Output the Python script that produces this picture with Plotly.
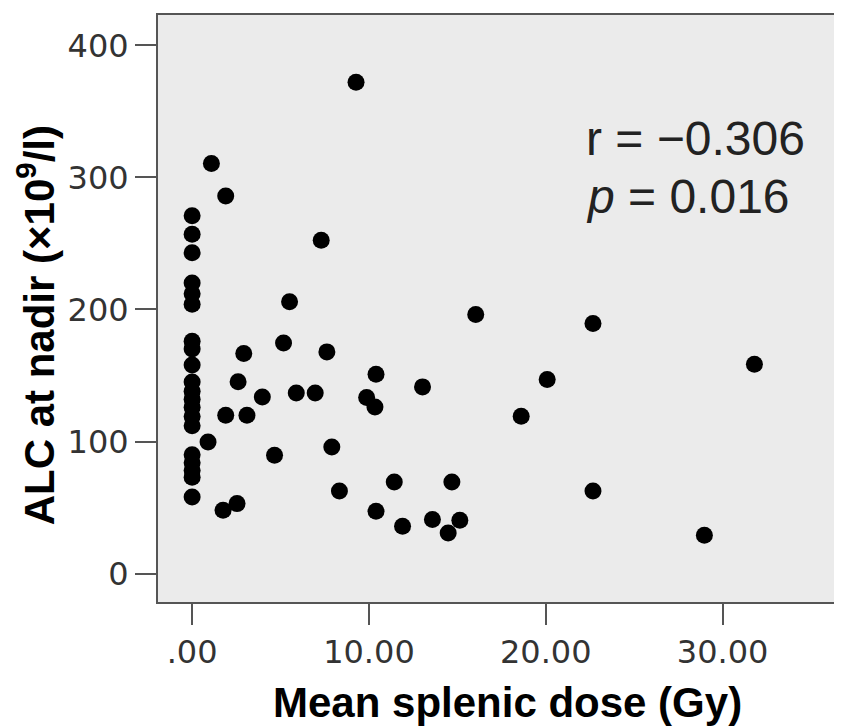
import plotly.graph_objects as go

# Mean splenic dose (Gy) and ALC at nadir (x10^9/l)
dose_zero = [0.0] * 20
alc_zero = [271, 257, 243, 220, 212, 204, 176, 170, 158, 145,
            138, 132, 126, 119, 112, 90, 84, 78, 73, 58]

dose = [1.09, 1.90, 2.92, 2.60, 3.97, 1.90, 3.10, 0.90, 1.75, 2.54,
        4.66, 5.51, 5.17, 7.62, 10.40, 5.89, 6.96, 9.87, 10.34, 13.03,
        16.04, 20.08, 18.61, 7.90, 8.33, 11.43, 14.69, 10.40, 11.90, 13.59,
        14.48, 15.14, 9.27, 7.30, 22.67, 31.80, 22.67, 28.97]
alc = [310.6, 286.0, 166.7, 145.2, 133.8, 120.0, 120.0, 99.7, 48.0, 53.0,
       89.6, 205.8, 174.7, 167.9, 151.0, 136.8, 136.8, 133.3, 126.2, 141.4,
       196.2, 147.0, 119.2, 95.9, 62.6, 69.4, 69.4, 47.2, 35.8, 40.9,
       30.8, 40.4, 372.0, 252.5, 189.4, 158.6, 62.6, 29.0]

x_ticks = [0, 10, 20, 30]
x_ticktext = [".00", "10.00", "20.00", "30.00"]
y_ticks = [0, 100, 200, 300, 400]

stats_lines = ["r = \u22120.306", "<i>p</i> = 0.016"]

fig = go.Figure()
fig.add_trace(go.Scatter(
    x=dose_zero + dose, y=alc_zero + alc,
    mode="markers",
    marker=dict(size=17, color="black"),
    showlegend=False,
    hoverinfo="x+y",
))

tick_font = dict(family="DejaVu Sans", size=32, color="#333333")

fig.update_xaxes(
    range=[-1.93, 36.47],
    tickvals=x_ticks, ticktext=x_ticktext,
    ticks="outside", ticklen=21, tickwidth=2, tickcolor="#555555",
    tickfont=tick_font,
    showline=True, linecolor="#555555", linewidth=2, mirror=True,
    showgrid=False, zeroline=False,
)
fig.update_yaxes(
    range=[-21.5, 423],
    tickvals=y_ticks,
    ticks="outside", ticklen=21, tickwidth=2, tickcolor="#555555",
    tickfont=tick_font,
    showline=True, linecolor="#555555", linewidth=2, mirror=True,
    showgrid=False, zeroline=False,
)

# r / p text, one annotation per line
for line, ypos in zip(stats_lines, [329.5, 285.5]):
    fig.add_annotation(
        x=22.15, y=ypos, xref="x", yref="y",
        xanchor="left", yanchor="middle",
        text=line, showarrow=False,
        font=dict(family="Liberation Sans", size=48, color="#222222"),
    )

# axis titles as annotations so they can be placed exactly
fig.add_annotation(
    x=0.514, y=-0.171, xref="paper", yref="paper",
    xanchor="center", yanchor="middle",
    text="<b>Mean splenic dose (Gy)</b>",
    showarrow=False,
    font=dict(family="Liberation Sans", size=42, color="black"),
)
fig.add_annotation(
    x=-0.18, y=0.471, xref="paper", yref="paper",
    xanchor="center", yanchor="middle", textangle=-90,
    text="<b>ALC at nadir (\u00d710<sup>9</sup>/l)</b>",
    showarrow=False,
    font=dict(family="Liberation Sans", size=42, color="black"),
)

# the page body adds an 8 px offset, so the figure is made 8 px smaller
fig.update_layout(
    width=834, height=718,
    margin=dict(l=150, r=3, t=7, b=124),
    plot_bgcolor="#EBEBEB",
    paper_bgcolor="white",
)

fig.write_html("out.html")
